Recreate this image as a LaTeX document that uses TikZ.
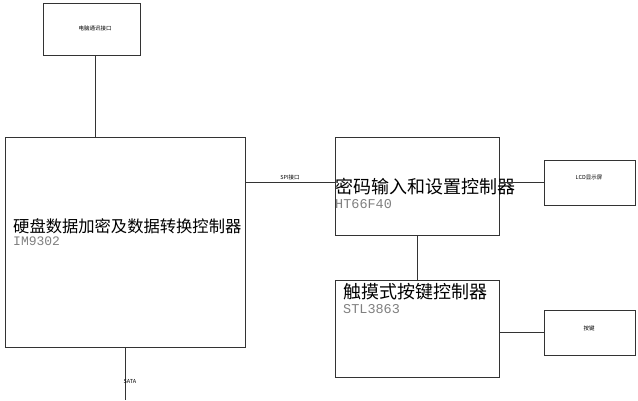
\documentclass[tikz,border=0pt]{standalone}
\usepackage{fontspec}
\newfontfamily\cjk{Noto Sans CJK SC}
\newfontfamily\mono{Liberation Mono}
\begin{document}
\begin{tikzpicture}[x=1pt,y=-1pt,
  blk/.style={draw=black!80,line width=1pt},
  ln/.style={draw=black!80,line width=1pt},
  tiny/.style={font=\cjk\fontsize{5.5}{6}\selectfont,inner sep=0pt},
  code/.style={text=black!50,inner sep=0pt,anchor=north west}]
\useasboundingbox (0,0) rectangle (638,400);
\fill[white] (0,0) rectangle (638,400);
\draw[blk] (43,3) rectangle (140,55);
\node[tiny] (pc) at (95,28) {电脑通讯接口};
\coordinate (pcb) at (95,55);
\draw[blk] (5,137) rectangle (245,347);
\coordinate (mt) at (95,137);
\draw[ln] (pcb) -- (mt);
\node[inner sep=0pt,anchor=west,font=\cjk\fontsize{16.3}{18}\selectfont] (m1) at (13,226) {硬盘数据加密及数据转换控制器};
\node[code,font=\mono\fontsize{13}{14}\selectfont] (m2) at (13,237) {IM9302};
\coordinate (sa) at (125,347); \coordinate (sb) at (125,400);
\draw[ln] (sa) -- (sb);
\node[tiny] (sata) at (130,381) {SATA};
\draw[blk] (335,137) rectangle (499,235);
\node[inner sep=0pt,anchor=west,font=\cjk\fontsize{18}{20}\selectfont] (p1) at (335,187) {密码输入和设置控制器};
\node[code,font=\mono\fontsize{13.5}{14}\selectfont] (p2) at (335,199) {HT66F40};
\coordinate (s1) at (245,182); \coordinate (s2) at (335,182);
\draw[ln] (s1) -- (s2);
\node[tiny] (spi) at (290,177) {SPI接口};
\draw[blk] (544,160) rectangle (635,205);
\node[tiny] (lcd) at (589,178) {LCD显示屏};
\coordinate (l1) at (499,182); \coordinate (l2) at (544,182);
\draw[ln] (l1) -- (l2);
\draw[blk] (335,280) rectangle (499,377);
\node[inner sep=0pt,anchor=west,font=\cjk\fontsize{18}{20}\selectfont] (t1) at (343,292) {触摸式按键控制器};
\node[code,font=\mono\fontsize{13.5}{14}\selectfont] (t2) at (343,304) {STL3863};
\coordinate (v1) at (417,235); \coordinate (v2) at (417,280);
\draw[ln] (v1) -- (v2);
\draw[blk] (544,310) rectangle (635,355);
\node[tiny] (key) at (589,328) {按键};
\coordinate (k1) at (499,332); \coordinate (k2) at (544,332);
\draw[ln] (k1) -- (k2);
\end{tikzpicture}
\end{document}
